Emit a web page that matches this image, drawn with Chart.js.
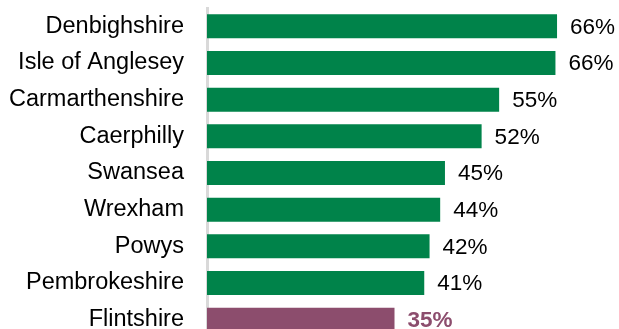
<!DOCTYPE html>
<html>
<head>
<meta charset="utf-8">
<script src="https://cdn.jsdelivr.net/npm/chart.js@4.4.1/dist/chart.umd.min.js"></script>
<style>
  html, body { margin: 0; padding: 0; background: #ffffff; overflow: hidden; }
  #wrap { position: relative; width: 619px; height: 340px; }
</style>
</head>
<body>
<div id="wrap"><canvas id="c"></canvas></div>
<script>
const categories = ["Denbighshire", "Isle of Anglesey", "Carmarthenshire", "Caerphilly", "Swansea", "Wrexham", "Powys", "Pembrokeshire", "Flintshire"];
const values = [65.9, 65.6, 55.0, 51.7, 44.8, 43.9, 41.9, 40.9, 35.3];
const highlight = ["Flintshire"];

const GREEN = "#00834A";
const PURPLE = "#8C4D6D";
const FONT = "'Liberation Sans', Arial, sans-serif";

const barColors = categories.map(c => highlight.includes(c) ? PURPLE : GREEN);

const valueLabels = {
  id: "valueLabels",
  afterDatasetsDraw(chart) {
    const ctx = chart.ctx;
    const meta = chart.getDatasetMeta(0);
    ctx.save();
    ctx.textBaseline = "middle";
    ctx.textAlign = "left";
    meta.data.forEach((bar, i) => {
      const hl = highlight.includes(categories[i]);
      ctx.font = (hl ? "bold " : "") + "22.5px " + FONT;
      ctx.fillStyle = hl ? PURPLE : "#000000";
      ctx.fillText(Math.round(values[i]) + "%", bar.x + 13, bar.y + 1);
    });
    ctx.restore();
  }
};

new Chart(document.getElementById("c"), {
  type: "bar",
  data: {
    labels: categories,
    datasets: [{
      data: values,
      backgroundColor: barColors,
      borderWidth: 0,
      categoryPercentage: 1,
      barPercentage: 0.655
    }]
  },
  options: {
    indexAxis: "y",
    responsive: true,
    maintainAspectRatio: false,
    animation: false,
    layout: { padding: { top: 8, bottom: 2, left: 0, right: 3 } },
    plugins: { legend: { display: false }, tooltip: { enabled: false } },
    scales: {
      x: {
        display: false,
        min: 0,
        max: 77
      },
      y: {
        afterFit(scale) { scale.width = 207; scale.paddingTop = 0; scale.paddingBottom = 0; },
        grid: { display: false, drawTicks: false },
        border: { display: true, color: "#D9D9D9", width: 3 },
        ticks: {
          color: "#000000",
          padding: 23,
          font: { family: FONT, size: 23.5 }
        }
      }
    }
  },
  plugins: [valueLabels]
});
</script>
</body>
</html>
